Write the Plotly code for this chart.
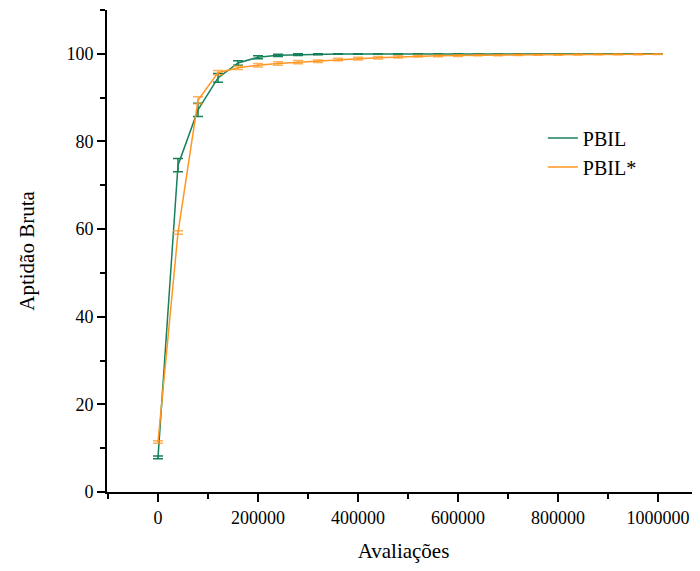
import plotly.graph_objects as go

# Avaliações (x) - gemeinsam für beide Kurven
avaliacoes = [0, 40000, 80000, 120000, 160000, 200000, 240000, 280000, 320000,
              360000, 400000, 440000, 480000, 520000, 560000, 600000, 640000,
              680000, 720000, 760000, 800000, 840000, 880000, 920000, 960000,
              1000000]

# PBIL
pbil = [7.9, 74.6, 87.2, 94.5, 97.9, 99.2, 99.65, 99.8, 99.9, 99.95, 99.96,
        99.97, 99.98, 99.98, 99.99, 99.99, 100, 100, 100, 100, 100, 100, 100,
        100, 100, 100]
pbil_err = [0.3, 1.5, 1.5, 1.0, 0.5, 0.35, 0.25, 0.2, 0.1, 0.05, 0.05, 0.04,
            0.03, 0.02, 0.02, 0.01, 0, 0, 0, 0, 0, 0, 0, 0, 0, 0]

# PBIL*
pbil_star = [11.4, 59.2, 89.4, 95.7, 96.8, 97.4, 97.8, 98.1, 98.3, 98.7, 98.9,
             99.1, 99.3, 99.45, 99.55, 99.6, 99.7, 99.72, 99.75, 99.78, 99.8,
             99.83, 99.86, 99.88, 99.9, 99.92]
pbil_star_err = [0.3, 0.4, 0.8, 0.5, 0.4, 0.4, 0.4, 0.35, 0.3, 0.3, 0.3, 0.3,
                 0.25, 0.2, 0.2, 0.2, 0.15, 0.15, 0.15, 0.12, 0.12, 0.1, 0.1,
                 0.1, 0.1, 0.1]

GREEN = '#17805a'
ORANGE = '#ff9620'
FONT = 'Times New Roman'

fig = go.Figure()

fig.add_trace(go.Scatter(
    x=avaliacoes, y=pbil, mode='lines', name='PBIL',
    line=dict(color=GREEN, width=1.5),
    error_y=dict(type='data', array=pbil_err, visible=True,
                 color=GREEN, thickness=1.5, width=5),
))
fig.add_trace(go.Scatter(
    x=avaliacoes, y=pbil_star, mode='lines', name='PBIL*',
    line=dict(color=ORANGE, width=1.5),
    error_y=dict(type='data', array=pbil_star_err, visible=True,
                 color='rgba(255,150,32,0.75)', thickness=1.5, width=5),
))

# Seite hat 8px Body-Rand -> Figur etwas kleiner, Ränder angepasst
fig.update_layout(
    width=692, height=555,
    paper_bgcolor='white', plot_bgcolor='white',
    margin=dict(l=99, r=0, t=2, b=71),
    font=dict(family=FONT, color='black', size=17),
    showlegend=True,
    legend=dict(x=0.735, y=0.775, xanchor='left', yanchor='top',
                bgcolor='rgba(0,0,0,0)', font=dict(size=20, family=FONT),
                tracegroupgap=0),
    xaxis=dict(
        range=[-102000, 1084000],
        tickmode='linear', tick0=0, dtick=200000,
        ticks='outside', ticklen=8, tickwidth=2, tickcolor='black',
        showline=True, linewidth=2, linecolor='black',
        showgrid=False, zeroline=False,
        tickformat='d',
        tickfont=dict(family=FONT, size=18),
        minor=dict(dtick=100000, tick0=0, ticks='outside', ticklen=5,
                   tickwidth=2, tickcolor='black', showgrid=False),
        title=dict(text='Avaliações', font=dict(size=21, family=FONT),
                   standoff=18),
    ),
    yaxis=dict(
        range=[0, 110],
        tickmode='linear', tick0=0, dtick=20,
        ticks='outside', ticklen=8, tickwidth=2, tickcolor='black',
        showline=True, linewidth=2, linecolor='black',
        showgrid=False, zeroline=False,
        tickfont=dict(family=FONT, size=18),
        minor=dict(dtick=10, tick0=0, ticks='outside', ticklen=5,
                   tickwidth=2, tickcolor='black', showgrid=False),
        title=dict(text='Aptidão Bruta', font=dict(size=21, family=FONT),
                   standoff=26),
    ),
)

fig.write_html("out.html")
